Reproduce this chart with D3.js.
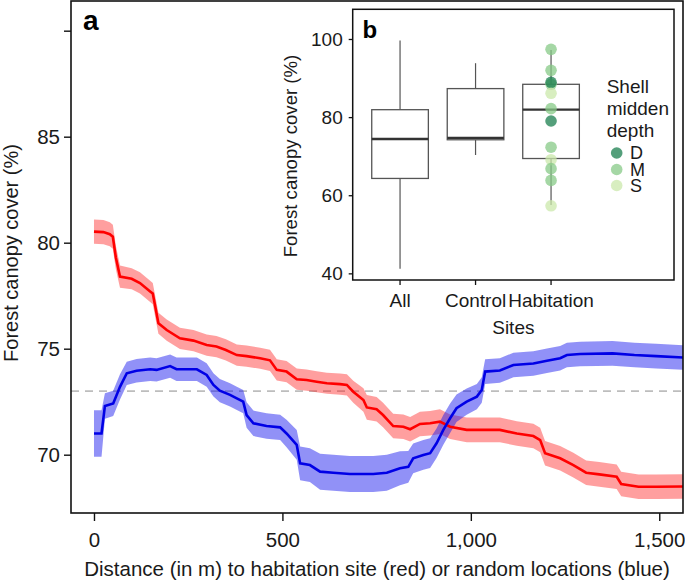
<!DOCTYPE html>
<html><head><meta charset="utf-8">
<script src="https://cdn.jsdelivr.net/npm/d3@7"></script>
<style>body{margin:0;background:#fff} svg{display:block} text{font-family:"Liberation Sans",Arial,sans-serif}</style>
</head><body><svg id="c" width="685" height="580"></svg>
<script>
// ---- Panel a data ----
const redDist  = [0,25,42,50,58,69,100,122,149,156,171,193,228,264,299,325,350,379,405,441,467,485,511,538,564,591,618,653,671,688,715,724,750,767,794,821,839,865,892,918,945,989,1077,1122,1166,1184,1197,1237,1272,1306,1341,1387,1399,1445,1492,1570];
const redCover = [80.52,80.5,80.4,80.28,79.3,78.4,78.3,78.1,77.7,77.6,76.2,75.88,75.49,75.38,75.17,75.1,74.94,74.7,74.65,74.55,74.45,74.0,73.92,73.56,73.52,73.44,73.37,73.33,73.29,72.97,72.58,72.23,72.14,71.87,71.35,71.32,71.2,71.45,71.48,71.56,71.32,71.17,71.17,71.0,70.88,70.69,70.07,69.83,69.51,69.15,69.07,68.96,68.62,68.49,68.49,68.5];
const redCI    = [0.57,0.57,0.57,0.57,0.55,0.52,0.5,0.5,0.5,0.5,0.5,0.5,0.5,0.5,0.5,0.5,0.5,0.5,0.5,0.5,0.5,0.5,0.5,0.5,0.5,0.5,0.5,0.5,0.5,0.52,0.55,0.58,0.58,0.58,0.58,0.58,0.58,0.58,0.58,0.58,0.58,0.58,0.58,0.58,0.58,0.58,0.58,0.58,0.58,0.58,0.58,0.58,0.58,0.58,0.58,0.58];
const blueDist  = [0,20,29,51,69,87,113,149,166,202,219,273,299,317,334,361,379,396,405,423,458,494,511,538,547,573,600,635,679,741,777,812,834,847,874,892,909,927,945,962,989,1016,1029,1038,1077,1113,1166,1202,1237,1255,1290,1376,1434,1492,1570];
const blueCover = [71.0,71.0,72.3,72.42,73.2,73.84,73.96,74.03,74.0,74.18,74.03,74.03,73.76,73.29,73.02,72.82,72.66,72.5,71.87,71.48,71.35,71.29,71.0,70.46,69.59,69.51,69.2,69.15,69.09,69.09,69.15,69.36,69.43,69.83,69.99,70.07,70.54,71.17,71.72,72.19,72.5,72.74,73.05,73.92,73.97,74.23,74.3,74.43,74.55,74.7,74.75,74.78,74.7,74.65,74.58];
const blueCI    = [1.1,1.1,0.6,0.6,0.6,0.55,0.55,0.55,0.55,0.55,0.55,0.55,0.55,0.55,0.55,0.55,0.55,0.55,0.6,0.6,0.6,0.6,0.65,0.7,0.8,0.8,0.85,0.85,0.85,0.85,0.85,0.8,0.75,0.7,0.7,0.7,0.7,0.7,0.7,0.65,0.62,0.6,0.6,0.58,0.58,0.58,0.58,0.58,0.58,0.58,0.58,0.58,0.58,0.58,0.58];
const refLine = 73;
const xTicks = [0,500,1000,1500];
const xTickLabels = ["0","500","1,000","1,500"];
const yTicks = [70,75,80,85,90];
const yTickLabels = ["70","75","80","85",""];

// ---- Panel b data ----
const siteCats = ["All","Control","Habitation"];
const boxLow  = [41.2,70.3,57.5];
const boxQ1   = [64.3,74.2,69.4];
const boxMed  = [74.4,74.7,81.9];
const boxQ3   = [81.9,87.3,88.4];
const boxHigh = [99.6,93.8,97.2];
const habValues = [97.35,91.97,88.4,88.9,86.1,82.16,79.0,72.3,69.1,66.8,63.8,57.3];
const habDepth  = ["M","M","M","D","S","M","D","M","S","M","M","S"];
const depthLevels = ["D","M","S"];
const depthColors = ["#1b7f4f","#87ca87","#cbe8ab"];
const insetYTicks = [40,60,80,100];

const svg = d3.select("#c");
const txt = "#1a1a1a";

// ---- main panel ----
const L=71,R=683,T=1,B=513;
const x = d3.scaleLinear().domain([-61,1563]).range([L,R]);
const y = d3.scaleLinear().domain([67.25,91.4]).range([B,T]);

svg.append("clipPath").attr("id","clipA").append("rect").attr("x",L).attr("y",T).attr("width",R-L).attr("height",B-T);
const gA = svg.append("g").attr("clip-path","url(#clipA)");

gA.append("line").attr("x1",L).attr("x2",R).attr("y1",y(refLine)).attr("y2",y(refLine))
  .attr("stroke","#bdbdbd").attr("stroke-width",1.6).attr("stroke-dasharray","8,6");

const red = redDist.map((d,i)=>({d,v:redCover[i],c:redCI[i]}));
const blue = blueDist.map((d,i)=>({d,v:blueCover[i],c:blueCI[i]}));
const area = d3.area().x(p=>x(p.d)).y0(p=>y(p.v-p.c)).y1(p=>y(p.v+p.c));
const line = d3.line().x(p=>x(p.d)).y(p=>y(p.v));

gA.append("path").datum(red).attr("d",area).attr("fill","#ff1a1a").attr("fill-opacity",0.42);
gA.append("path").datum(blue).attr("d",area).attr("fill","#1a1aee").attr("fill-opacity",0.48);
gA.append("path").datum(red).attr("d",line).attr("fill","none").attr("stroke","#ff0000").attr("stroke-width",2.6);
gA.append("path").datum(blue).attr("d",line).attr("fill","none").attr("stroke","#0000e6").attr("stroke-width",2.6);

// frame
svg.append("rect").attr("x",L).attr("y",T).attr("width",R-L).attr("height",B-T)
  .attr("fill","none").attr("stroke","#111").attr("stroke-width",1.6);

const yAx = svg.append("g").attr("transform",`translate(${L},0)`)
  .call(d3.axisLeft(y).tickValues(yTicks).tickFormat((d,i)=>yTickLabels[i]).tickSize(7).tickPadding(4));
const xAx = svg.append("g").attr("transform",`translate(0,${B})`)
  .call(d3.axisBottom(x).tickValues(xTicks).tickFormat((d,i)=>xTickLabels[i]).tickSize(8).tickPadding(11));
[yAx,xAx].forEach(g=>{
  g.select(".domain").remove();
  g.selectAll(".tick line").attr("stroke","#111").attr("stroke-width",1.4);
  g.selectAll(".tick text").attr("fill",txt).style("font-size","20.5px");
});

svg.append("text").attr("x",(L+R)/2).attr("y",576).attr("text-anchor","middle")
  .attr("fill",txt).style("font-size","20.5px")
  .text("Distance (in m) to habitation site (red) or random locations (blue)");
svg.append("text").attr("transform","translate(18,253) rotate(-90)").attr("text-anchor","middle")
  .attr("fill",txt).style("font-size","20px").text("Forest canopy cover (%)");
svg.append("text").attr("x",83).attr("y",30).attr("fill","#000").style("font-size","28px").style("font-weight","bold").text("a");

// ---- inset panel b ----
const iL=352.7,iR=674,iT=9.3,iB=280;
svg.append("rect").attr("x",iL-62).attr("y",iT-2).attr("width",iR-iL+66).attr("height",iB-iT+62).attr("fill","#fff");
const yi = d3.scaleLinear().domain([38.3,107.6]).range([iB,iT]);
const xi = d3.scaleBand().domain(siteCats).range([362.3,362.3+75.5*3]);
const bw = xi.bandwidth()*0.75;

svg.append("rect").attr("x",iL).attr("y",iT).attr("width",iR-iL).attr("height",iB-iT)
  .attr("fill","#fff").attr("stroke","#111").attr("stroke-width",1.5);

const gB = svg.append("g");
siteCats.forEach((c,i)=>{
  const cx = xi(c)+xi.bandwidth()/2;
  gB.append("line").attr("x1",cx).attr("x2",cx).attr("y1",yi(boxQ3[i])).attr("y2",yi(boxHigh[i])).attr("stroke","#555").attr("stroke-width",1.2);
  gB.append("line").attr("x1",cx).attr("x2",cx).attr("y1",yi(boxQ1[i])).attr("y2",yi(boxLow[i])).attr("stroke","#555").attr("stroke-width",1.2);
  gB.append("rect").attr("x",cx-bw/2).attr("y",yi(boxQ3[i])).attr("width",bw).attr("height",yi(boxQ1[i])-yi(boxQ3[i]))
    .attr("fill","#fff").attr("stroke","#555").attr("stroke-width",1.3);
  gB.append("line").attr("x1",cx-bw/2).attr("x2",cx+bw/2).attr("y1",yi(boxMed[i])).attr("y2",yi(boxMed[i])).attr("stroke","#333").attr("stroke-width",2.3);
});
const col = d3.scaleOrdinal().domain(depthLevels).range(depthColors);
const hx = xi("Habitation")+xi.bandwidth()/2;
gB.selectAll("circle.pt").data(habValues).join("circle").attr("class","pt")
  .attr("cx",hx).attr("cy",d=>yi(d)).attr("r",5.8)
  .attr("fill",(d,i)=>col(habDepth[i])).attr("fill-opacity",0.75);

const yiAx = svg.append("g").attr("transform",`translate(${iL},0)`)
  .call(d3.axisLeft(yi).tickValues(insetYTicks).tickSize(4).tickPadding(6));
const xiAx = svg.append("g").attr("transform",`translate(0,${iB})`)
  .call(d3.axisBottom(xi).tickSize(5).tickPadding(9));
[yiAx,xiAx].forEach(g=>{
  g.select(".domain").remove();
  g.selectAll(".tick line").attr("stroke","#111").attr("stroke-width",1.3);
  g.selectAll(".tick text").attr("fill",txt).style("font-size","19px");
});
svg.append("text").attr("x",(iL+iR)/2).attr("y",333.5).attr("text-anchor","middle").attr("fill",txt).style("font-size","19px").text("Sites");
svg.append("text").attr("transform","translate(297,156) rotate(-90)").attr("text-anchor","middle")
  .attr("fill",txt).style("font-size","18.6px").text("Forest canopy cover (%)");
svg.append("text").attr("x",362.5).attr("y",38.3).attr("fill","#000").style("font-size","24px").style("font-weight","bold").text("b");

// legend
const legTitle = ["Shell","midden","depth"];
const legTitleY = [92.7,115,136.7];
legTitle.forEach((t,i)=>svg.append("text").attr("x",606.7).attr("y",legTitleY[i]).attr("fill",txt).style("font-size","19px").text(t));
const legY = [153,169.5,185.5];
depthLevels.forEach((lv,i)=>{
  svg.append("circle").attr("cx",616.7).attr("cy",legY[i]).attr("r",5.8).attr("fill",col(lv)).attr("fill-opacity",0.75);
  svg.append("text").attr("x",630).attr("y",legY[i]+6.3).attr("fill",txt).style("font-size","18px").text(lv);
});
</script></body></html>
